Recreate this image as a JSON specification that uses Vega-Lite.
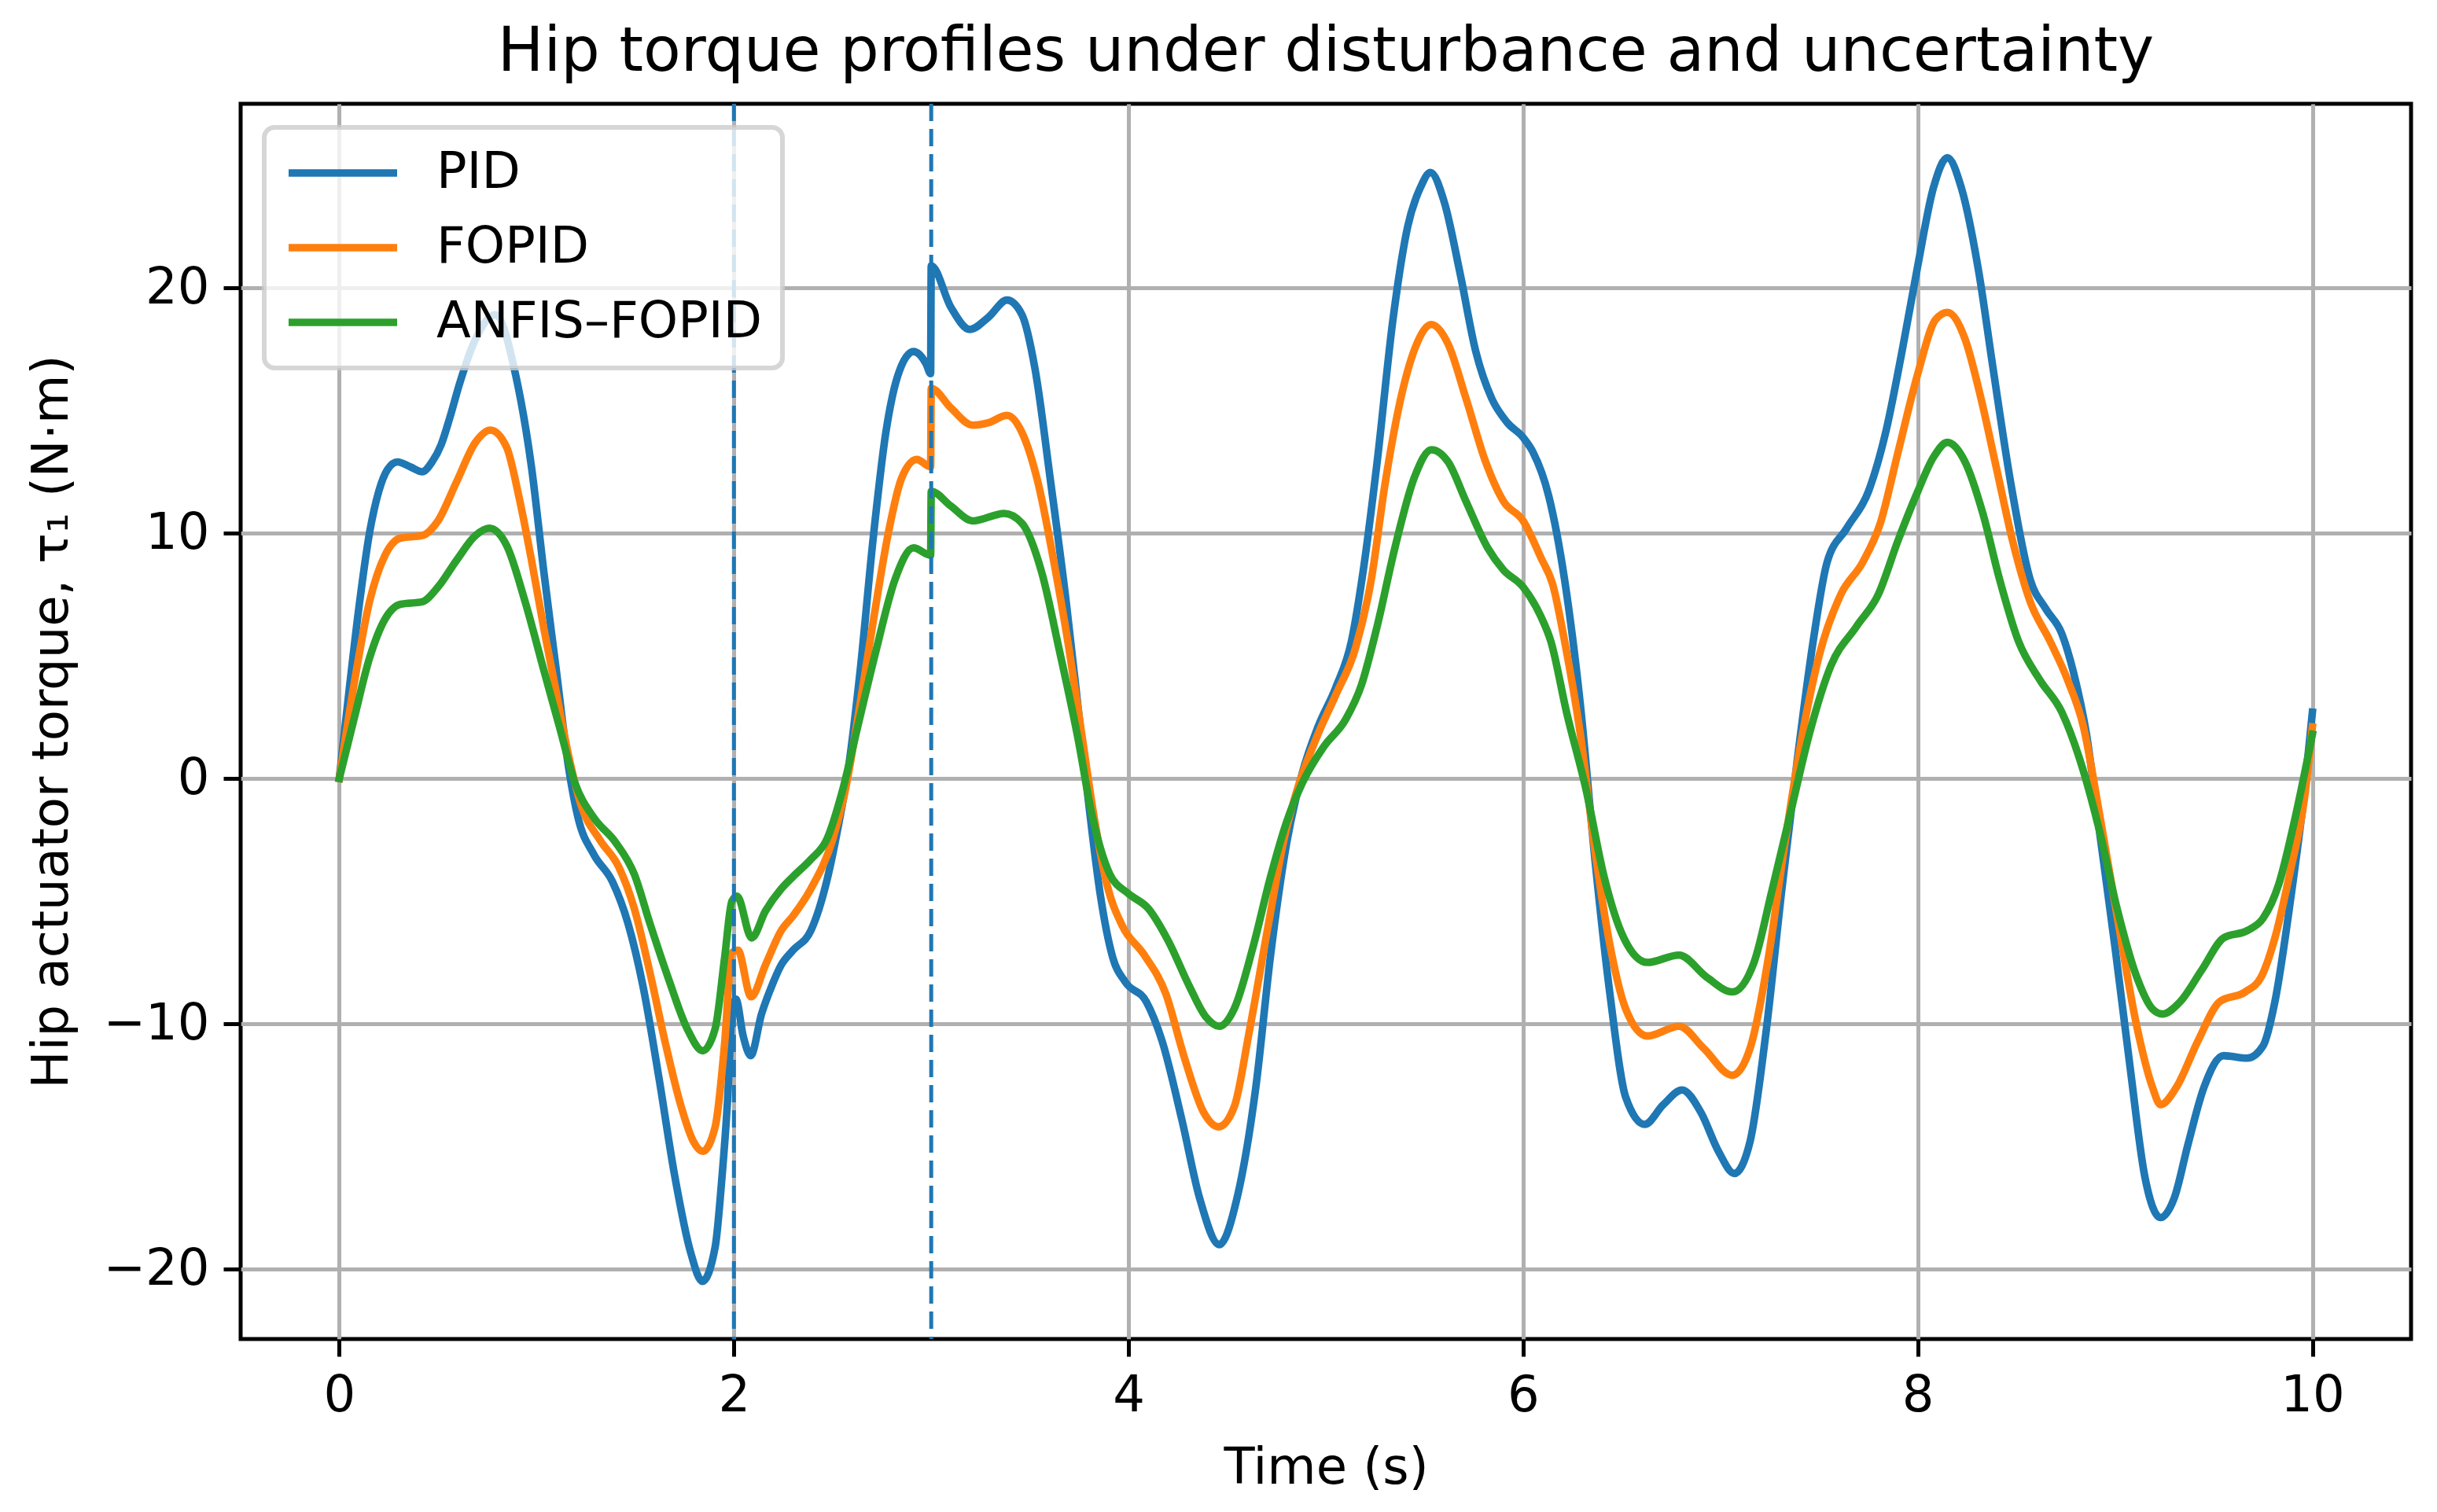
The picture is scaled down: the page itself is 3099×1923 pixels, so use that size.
{
  "$schema": "https://vega.github.io/schema/vega-lite/v6.json",
  "width": 2760,
  "height": 1571,
  "autosize": {"type": "none"},
  "padding": {"left": 306, "top": 132, "right": 33, "bottom": 220},
  "background": "white",
  "title": {
    "text": "Hip torque profiles under disturbance and uncertainty",
    "fontSize": 78,
    "fontWeight": "normal",
    "font": "DejaVu Sans",
    "color": "black",
    "anchor": "middle",
    "offset": 24
  },
  "datasets": {
    "torque": [
      {"c": "PID", "t": 0, "v": 0}, {"c": "PID", "t": 0.05, "v": 3.6}, {"c": "PID", "t": 0.1, "v": 7.0},
      {"c": "PID", "t": 0.153, "v": 10.0}, {"c": "PID", "t": 0.2, "v": 11.7}, {"c": "PID", "t": 0.245, "v": 12.6},
      {"c": "PID", "t": 0.295, "v": 12.9}, {"c": "PID", "t": 0.36, "v": 12.7}, {"c": "PID", "t": 0.42, "v": 12.5},
      {"c": "PID", "t": 0.47, "v": 12.9}, {"c": "PID", "t": 0.516, "v": 13.6}, {"c": "PID", "t": 0.56, "v": 14.7},
      {"c": "PID", "t": 0.61, "v": 16.1}, {"c": "PID", "t": 0.69, "v": 17.9}, {"c": "PID", "t": 0.79, "v": 18.9},
      {"c": "PID", "t": 0.895, "v": 16.4}, {"c": "PID", "t": 0.974, "v": 12.7}, {"c": "PID", "t": 1.037, "v": 8.4},
      {"c": "PID", "t": 1.1, "v": 4.4}, {"c": "PID", "t": 1.163, "v": 0.4}, {"c": "PID", "t": 1.21, "v": -1.6},
      {"c": "PID", "t": 1.29, "v": -3.1}, {"c": "PID", "t": 1.384, "v": -4.2}, {"c": "PID", "t": 1.463, "v": -5.9},
      {"c": "PID", "t": 1.54, "v": -8.5}, {"c": "PID", "t": 1.62, "v": -12.2}, {"c": "PID", "t": 1.7, "v": -16.2},
      {"c": "PID", "t": 1.78, "v": -19.3}, {"c": "PID", "t": 1.84, "v": -20.5}, {"c": "PID", "t": 1.905, "v": -19.1},
      {"c": "PID", "t": 1.937, "v": -16.5}, {"c": "PID", "t": 1.968, "v": -13.1}, {"c": "PID", "t": 1.99, "v": -9.6},
      {"c": "PID", "t": 2.01, "v": -9.0}, {"c": "PID", "t": 2.047, "v": -10.5}, {"c": "PID", "t": 2.085, "v": -11.3},
      {"c": "PID", "t": 2.14, "v": -9.6}, {"c": "PID", "t": 2.185, "v": -8.6}, {"c": "PID", "t": 2.24, "v": -7.6},
      {"c": "PID", "t": 2.3, "v": -7.0}, {"c": "PID", "t": 2.39, "v": -6.2}, {"c": "PID", "t": 2.47, "v": -4.2},
      {"c": "PID", "t": 2.53, "v": -1.9}, {"c": "PID", "t": 2.58, "v": 0.4}, {"c": "PID", "t": 2.64, "v": 4.4},
      {"c": "PID", "t": 2.706, "v": 9.8}, {"c": "PID", "t": 2.77, "v": 14.1}, {"c": "PID", "t": 2.83, "v": 16.4},
      {"c": "PID", "t": 2.91, "v": 17.4}, {"c": "PID", "t": 2.974, "v": 16.9}, {"c": "PID", "t": 2.997, "v": 16.5},
      {"c": "PID", "t": 3.0, "v": 20.9}, {"c": "PID", "t": 3.1, "v": 19.2}, {"c": "PID", "t": 3.195, "v": 18.3},
      {"c": "PID", "t": 3.29, "v": 18.8}, {"c": "PID", "t": 3.384, "v": 19.5}, {"c": "PID", "t": 3.46, "v": 18.9},
      {"c": "PID", "t": 3.526, "v": 16.7}, {"c": "PID", "t": 3.605, "v": 12.1}, {"c": "PID", "t": 3.684, "v": 7.2},
      {"c": "PID", "t": 3.747, "v": 2.7}, {"c": "PID", "t": 3.795, "v": -0.8}, {"c": "PID", "t": 3.858, "v": -4.8},
      {"c": "PID", "t": 3.92, "v": -7.3}, {"c": "PID", "t": 3.984, "v": -8.3}, {"c": "PID", "t": 4.09, "v": -9.1},
      {"c": "PID", "t": 4.17, "v": -10.7}, {"c": "PID", "t": 4.27, "v": -13.9}, {"c": "PID", "t": 4.36, "v": -17.1},
      {"c": "PID", "t": 4.46, "v": -19.0}, {"c": "PID", "t": 4.55, "v": -17.1}, {"c": "PID", "t": 4.645, "v": -12.6},
      {"c": "PID", "t": 4.72, "v": -7.2}, {"c": "PID", "t": 4.8, "v": -2.7}, {"c": "PID", "t": 4.88, "v": 0.2},
      {"c": "PID", "t": 4.96, "v": 2.1}, {"c": "PID", "t": 5.05, "v": 3.7}, {"c": "PID", "t": 5.13, "v": 5.6},
      {"c": "PID", "t": 5.19, "v": 8.5}, {"c": "PID", "t": 5.26, "v": 12.9}, {"c": "PID", "t": 5.34, "v": 18.7},
      {"c": "PID", "t": 5.415, "v": 22.5}, {"c": "PID", "t": 5.48, "v": 24.1}, {"c": "PID", "t": 5.53, "v": 24.7},
      {"c": "PID", "t": 5.6, "v": 23.5}, {"c": "PID", "t": 5.68, "v": 20.6}, {"c": "PID", "t": 5.76, "v": 17.4},
      {"c": "PID", "t": 5.84, "v": 15.5}, {"c": "PID", "t": 5.92, "v": 14.5}, {"c": "PID", "t": 6.0, "v": 13.9},
      {"c": "PID", "t": 6.05, "v": 13.3}, {"c": "PID", "t": 6.13, "v": 11.5}, {"c": "PID", "t": 6.21, "v": 8.1},
      {"c": "PID", "t": 6.29, "v": 3.0}, {"c": "PID", "t": 6.365, "v": -3.4}, {"c": "PID", "t": 6.44, "v": -8.8},
      {"c": "PID", "t": 6.52, "v": -13.0}, {"c": "PID", "t": 6.616, "v": -14.1}, {"c": "PID", "t": 6.71, "v": -13.3},
      {"c": "PID", "t": 6.805, "v": -12.7}, {"c": "PID", "t": 6.9, "v": -13.6}, {"c": "PID", "t": 6.99, "v": -15.2},
      {"c": "PID", "t": 7.07, "v": -16.1}, {"c": "PID", "t": 7.15, "v": -14.8}, {"c": "PID", "t": 7.23, "v": -10.4},
      {"c": "PID", "t": 7.31, "v": -4.6}, {"c": "PID", "t": 7.39, "v": 0.8}, {"c": "PID", "t": 7.47, "v": 5.6},
      {"c": "PID", "t": 7.54, "v": 8.8}, {"c": "PID", "t": 7.64, "v": 10.2}, {"c": "PID", "t": 7.75, "v": 11.7},
      {"c": "PID", "t": 7.84, "v": 14.2}, {"c": "PID", "t": 7.92, "v": 17.4}, {"c": "PID", "t": 8.0, "v": 20.9},
      {"c": "PID", "t": 8.08, "v": 24.1}, {"c": "PID", "t": 8.15, "v": 25.3}, {"c": "PID", "t": 8.22, "v": 24.1},
      {"c": "PID", "t": 8.31, "v": 20.6}, {"c": "PID", "t": 8.38, "v": 16.8}, {"c": "PID", "t": 8.47, "v": 12.1},
      {"c": "PID", "t": 8.57, "v": 8.1}, {"c": "PID", "t": 8.65, "v": 6.9}, {"c": "PID", "t": 8.73, "v": 5.9},
      {"c": "PID", "t": 8.79, "v": 4.3}, {"c": "PID", "t": 8.855, "v": 1.8}, {"c": "PID", "t": 8.92, "v": -2.1},
      {"c": "PID", "t": 9.0, "v": -6.9}, {"c": "PID", "t": 9.075, "v": -11.7}, {"c": "PID", "t": 9.15, "v": -16.2},
      {"c": "PID", "t": 9.23, "v": -17.9}, {"c": "PID", "t": 9.3, "v": -17.1}, {"c": "PID", "t": 9.37, "v": -14.9},
      {"c": "PID", "t": 9.45, "v": -12.6}, {"c": "PID", "t": 9.55, "v": -11.3}, {"c": "PID", "t": 9.67, "v": -11.4},
      {"c": "PID", "t": 9.75, "v": -10.9}, {"c": "PID", "t": 9.81, "v": -9.1}, {"c": "PID", "t": 9.89, "v": -4.9},
      {"c": "PID", "t": 9.96, "v": -0.5}, {"c": "PID", "t": 10.0, "v": 2.7},

      {"c": "FOPID", "t": 0, "v": 0}, {"c": "FOPID", "t": 0.074, "v": 3.8}, {"c": "FOPID", "t": 0.153, "v": 7.2},
      {"c": "FOPID", "t": 0.232, "v": 9.1}, {"c": "FOPID", "t": 0.311, "v": 9.8}, {"c": "FOPID", "t": 0.42, "v": 9.9},
      {"c": "FOPID", "t": 0.5, "v": 10.5}, {"c": "FOPID", "t": 0.595, "v": 12.1}, {"c": "FOPID", "t": 0.69, "v": 13.7},
      {"c": "FOPID", "t": 0.766, "v": 14.2}, {"c": "FOPID", "t": 0.848, "v": 13.5}, {"c": "FOPID", "t": 0.91, "v": 11.5},
      {"c": "FOPID", "t": 0.974, "v": 8.9}, {"c": "FOPID", "t": 1.037, "v": 6.1}, {"c": "FOPID", "t": 1.1, "v": 3.5},
      {"c": "FOPID", "t": 1.163, "v": 0.9}, {"c": "FOPID", "t": 1.226, "v": -1.1}, {"c": "FOPID", "t": 1.32, "v": -2.5},
      {"c": "FOPID", "t": 1.416, "v": -3.6}, {"c": "FOPID", "t": 1.495, "v": -5.3}, {"c": "FOPID", "t": 1.574, "v": -7.9},
      {"c": "FOPID", "t": 1.653, "v": -10.8}, {"c": "FOPID", "t": 1.73, "v": -13.3}, {"c": "FOPID", "t": 1.795, "v": -14.8},
      {"c": "FOPID", "t": 1.842, "v": -15.2}, {"c": "FOPID", "t": 1.905, "v": -14.2}, {"c": "FOPID", "t": 1.953, "v": -10.8},
      {"c": "FOPID", "t": 1.99, "v": -7.1}, {"c": "FOPID", "t": 2.02, "v": -7.0}, {"c": "FOPID", "t": 2.087, "v": -8.9},
      {"c": "FOPID", "t": 2.16, "v": -7.6}, {"c": "FOPID", "t": 2.24, "v": -6.2}, {"c": "FOPID", "t": 2.3, "v": -5.6},
      {"c": "FOPID", "t": 2.39, "v": -4.5}, {"c": "FOPID", "t": 2.5, "v": -2.5}, {"c": "FOPID", "t": 2.564, "v": -0.5},
      {"c": "FOPID", "t": 2.627, "v": 2.4}, {"c": "FOPID", "t": 2.706, "v": 6.4}, {"c": "FOPID", "t": 2.785, "v": 10.1},
      {"c": "FOPID", "t": 2.848, "v": 12.2}, {"c": "FOPID", "t": 2.927, "v": 13.0}, {"c": "FOPID", "t": 2.997, "v": 12.7},
      {"c": "FOPID", "t": 3.0, "v": 15.9}, {"c": "FOPID", "t": 3.1, "v": 15.1}, {"c": "FOPID", "t": 3.21, "v": 14.4},
      {"c": "FOPID", "t": 3.29, "v": 14.5}, {"c": "FOPID", "t": 3.384, "v": 14.8}, {"c": "FOPID", "t": 3.46, "v": 14.1},
      {"c": "FOPID", "t": 3.54, "v": 12.1}, {"c": "FOPID", "t": 3.62, "v": 8.9}, {"c": "FOPID", "t": 3.7, "v": 5.2},
      {"c": "FOPID", "t": 3.763, "v": 1.8}, {"c": "FOPID", "t": 3.826, "v": -1.6}, {"c": "FOPID", "t": 3.89, "v": -4.3},
      {"c": "FOPID", "t": 3.968, "v": -6.0}, {"c": "FOPID", "t": 4.08, "v": -7.2}, {"c": "FOPID", "t": 4.19, "v": -8.8},
      {"c": "FOPID", "t": 4.28, "v": -11.3}, {"c": "FOPID", "t": 4.38, "v": -13.6}, {"c": "FOPID", "t": 4.456, "v": -14.2},
      {"c": "FOPID", "t": 4.535, "v": -13.4}, {"c": "FOPID", "t": 4.61, "v": -10.4}, {"c": "FOPID", "t": 4.71, "v": -5.9},
      {"c": "FOPID", "t": 4.79, "v": -2.4}, {"c": "FOPID", "t": 4.865, "v": -0.2}, {"c": "FOPID", "t": 4.96, "v": 1.8},
      {"c": "FOPID", "t": 5.05, "v": 3.4}, {"c": "FOPID", "t": 5.15, "v": 5.3}, {"c": "FOPID", "t": 5.23, "v": 8.1},
      {"c": "FOPID", "t": 5.3, "v": 12.0}, {"c": "FOPID", "t": 5.38, "v": 15.5}, {"c": "FOPID", "t": 5.46, "v": 17.7},
      {"c": "FOPID", "t": 5.535, "v": 18.5}, {"c": "FOPID", "t": 5.62, "v": 17.7}, {"c": "FOPID", "t": 5.71, "v": 15.5},
      {"c": "FOPID", "t": 5.81, "v": 12.9}, {"c": "FOPID", "t": 5.9, "v": 11.3}, {"c": "FOPID", "t": 6.0, "v": 10.5},
      {"c": "FOPID", "t": 6.09, "v": 9.0}, {"c": "FOPID", "t": 6.15, "v": 7.9}, {"c": "FOPID", "t": 6.21, "v": 5.6},
      {"c": "FOPID", "t": 6.29, "v": 1.8}, {"c": "FOPID", "t": 6.365, "v": -3.0}, {"c": "FOPID", "t": 6.44, "v": -6.8},
      {"c": "FOPID", "t": 6.52, "v": -9.4}, {"c": "FOPID", "t": 6.63, "v": -10.5}, {"c": "FOPID", "t": 6.79, "v": -10.1},
      {"c": "FOPID", "t": 6.915, "v": -11.0}, {"c": "FOPID", "t": 7.06, "v": -12.1}, {"c": "FOPID", "t": 7.15, "v": -11.0},
      {"c": "FOPID", "t": 7.245, "v": -7.2}, {"c": "FOPID", "t": 7.32, "v": -3.0}, {"c": "FOPID", "t": 7.4, "v": 1.1},
      {"c": "FOPID", "t": 7.5, "v": 5.0}, {"c": "FOPID", "t": 7.61, "v": 7.5}, {"c": "FOPID", "t": 7.72, "v": 8.8},
      {"c": "FOPID", "t": 7.81, "v": 10.4}, {"c": "FOPID", "t": 7.9, "v": 13.3}, {"c": "FOPID", "t": 8.0, "v": 16.5},
      {"c": "FOPID", "t": 8.09, "v": 18.7}, {"c": "FOPID", "t": 8.15, "v": 19.0}, {"c": "FOPID", "t": 8.24, "v": 17.9},
      {"c": "FOPID", "t": 8.32, "v": 15.5}, {"c": "FOPID", "t": 8.4, "v": 12.6}, {"c": "FOPID", "t": 8.48, "v": 9.7},
      {"c": "FOPID", "t": 8.57, "v": 7.2}, {"c": "FOPID", "t": 8.67, "v": 5.6}, {"c": "FOPID", "t": 8.76, "v": 4.0},
      {"c": "FOPID", "t": 8.84, "v": 2.1}, {"c": "FOPID", "t": 8.92, "v": -1.4}, {"c": "FOPID", "t": 9.01, "v": -5.6},
      {"c": "FOPID", "t": 9.11, "v": -10.1}, {"c": "FOPID", "t": 9.19, "v": -12.6}, {"c": "FOPID", "t": 9.23, "v": -13.3},
      {"c": "FOPID", "t": 9.31, "v": -12.6}, {"c": "FOPID", "t": 9.42, "v": -10.7}, {"c": "FOPID", "t": 9.53, "v": -9.1},
      {"c": "FOPID", "t": 9.66, "v": -8.7}, {"c": "FOPID", "t": 9.74, "v": -8.1}, {"c": "FOPID", "t": 9.81, "v": -6.5},
      {"c": "FOPID", "t": 9.89, "v": -3.7}, {"c": "FOPID", "t": 9.96, "v": -0.8}, {"c": "FOPID", "t": 10.0, "v": 2.1},

      {"c": "ANFIS–FOPID", "t": 0, "v": 0}, {"c": "ANFIS–FOPID", "t": 0.074, "v": 2.4}, {"c": "ANFIS–FOPID", "t": 0.153, "v": 4.9},
      {"c": "ANFIS–FOPID", "t": 0.232, "v": 6.5}, {"c": "ANFIS–FOPID", "t": 0.311, "v": 7.1}, {"c": "ANFIS–FOPID", "t": 0.42, "v": 7.2},
      {"c": "ANFIS–FOPID", "t": 0.5, "v": 7.8}, {"c": "ANFIS–FOPID", "t": 0.595, "v": 8.9}, {"c": "ANFIS–FOPID", "t": 0.69, "v": 9.9},
      {"c": "ANFIS–FOPID", "t": 0.76, "v": 10.2}, {"c": "ANFIS–FOPID", "t": 0.848, "v": 9.5}, {"c": "ANFIS–FOPID", "t": 0.942, "v": 7.2},
      {"c": "ANFIS–FOPID", "t": 1.037, "v": 4.4}, {"c": "ANFIS–FOPID", "t": 1.116, "v": 2.1}, {"c": "ANFIS–FOPID", "t": 1.195, "v": -0.2},
      {"c": "ANFIS–FOPID", "t": 1.29, "v": -1.6}, {"c": "ANFIS–FOPID", "t": 1.4, "v": -2.6}, {"c": "ANFIS–FOPID", "t": 1.495, "v": -3.9},
      {"c": "ANFIS–FOPID", "t": 1.574, "v": -5.9}, {"c": "ANFIS–FOPID", "t": 1.67, "v": -8.2}, {"c": "ANFIS–FOPID", "t": 1.763, "v": -10.2},
      {"c": "ANFIS–FOPID", "t": 1.842, "v": -11.1}, {"c": "ANFIS–FOPID", "t": 1.905, "v": -10.2}, {"c": "ANFIS–FOPID", "t": 1.953, "v": -7.3},
      {"c": "ANFIS–FOPID", "t": 1.99, "v": -5.0}, {"c": "ANFIS–FOPID", "t": 2.016, "v": -4.8}, {"c": "ANFIS–FOPID", "t": 2.09, "v": -6.5},
      {"c": "ANFIS–FOPID", "t": 2.16, "v": -5.4}, {"c": "ANFIS–FOPID", "t": 2.24, "v": -4.5}, {"c": "ANFIS–FOPID", "t": 2.3, "v": -4.0},
      {"c": "ANFIS–FOPID", "t": 2.39, "v": -3.3}, {"c": "ANFIS–FOPID", "t": 2.47, "v": -2.5}, {"c": "ANFIS–FOPID", "t": 2.55, "v": -0.5},
      {"c": "ANFIS–FOPID", "t": 2.627, "v": 2.1}, {"c": "ANFIS–FOPID", "t": 2.72, "v": 5.2}, {"c": "ANFIS–FOPID", "t": 2.816, "v": 8.1},
      {"c": "ANFIS–FOPID", "t": 2.91, "v": 9.4}, {"c": "ANFIS–FOPID", "t": 2.997, "v": 9.1}, {"c": "ANFIS–FOPID", "t": 3.0, "v": 11.7},
      {"c": "ANFIS–FOPID", "t": 3.1, "v": 11.1}, {"c": "ANFIS–FOPID", "t": 3.21, "v": 10.5}, {"c": "ANFIS–FOPID", "t": 3.37, "v": 10.8},
      {"c": "ANFIS–FOPID", "t": 3.46, "v": 10.4}, {"c": "ANFIS–FOPID", "t": 3.56, "v": 8.4}, {"c": "ANFIS–FOPID", "t": 3.65, "v": 5.2},
      {"c": "ANFIS–FOPID", "t": 3.747, "v": 1.5}, {"c": "ANFIS–FOPID", "t": 3.81, "v": -1.3}, {"c": "ANFIS–FOPID", "t": 3.905, "v": -3.9},
      {"c": "ANFIS–FOPID", "t": 4.0, "v": -4.7}, {"c": "ANFIS–FOPID", "t": 4.1, "v": -5.3}, {"c": "ANFIS–FOPID", "t": 4.2, "v": -6.6},
      {"c": "ANFIS–FOPID", "t": 4.31, "v": -8.5}, {"c": "ANFIS–FOPID", "t": 4.39, "v": -9.7}, {"c": "ANFIS–FOPID", "t": 4.46, "v": -10.1},
      {"c": "ANFIS–FOPID", "t": 4.535, "v": -9.4}, {"c": "ANFIS–FOPID", "t": 4.63, "v": -6.9}, {"c": "ANFIS–FOPID", "t": 4.72, "v": -4.0},
      {"c": "ANFIS–FOPID", "t": 4.8, "v": -1.8}, {"c": "ANFIS–FOPID", "t": 4.88, "v": -0.2}, {"c": "ANFIS–FOPID", "t": 4.99, "v": 1.3},
      {"c": "ANFIS–FOPID", "t": 5.1, "v": 2.4}, {"c": "ANFIS–FOPID", "t": 5.18, "v": 3.8}, {"c": "ANFIS–FOPID", "t": 5.26, "v": 6.2},
      {"c": "ANFIS–FOPID", "t": 5.35, "v": 9.4}, {"c": "ANFIS–FOPID", "t": 5.45, "v": 12.3}, {"c": "ANFIS–FOPID", "t": 5.535, "v": 13.4},
      {"c": "ANFIS–FOPID", "t": 5.62, "v": 12.9}, {"c": "ANFIS–FOPID", "t": 5.71, "v": 11.3}, {"c": "ANFIS–FOPID", "t": 5.82, "v": 9.4},
      {"c": "ANFIS–FOPID", "t": 5.9, "v": 8.5}, {"c": "ANFIS–FOPID", "t": 6.0, "v": 7.8}, {"c": "ANFIS–FOPID", "t": 6.09, "v": 6.6},
      {"c": "ANFIS–FOPID", "t": 6.14, "v": 5.6}, {"c": "ANFIS–FOPID", "t": 6.22, "v": 2.7}, {"c": "ANFIS–FOPID", "t": 6.32, "v": -0.5},
      {"c": "ANFIS–FOPID", "t": 6.41, "v": -4.0}, {"c": "ANFIS–FOPID", "t": 6.51, "v": -6.5}, {"c": "ANFIS–FOPID", "t": 6.63, "v": -7.5},
      {"c": "ANFIS–FOPID", "t": 6.79, "v": -7.2}, {"c": "ANFIS–FOPID", "t": 6.93, "v": -8.1}, {"c": "ANFIS–FOPID", "t": 7.06, "v": -8.7},
      {"c": "ANFIS–FOPID", "t": 7.17, "v": -7.5}, {"c": "ANFIS–FOPID", "t": 7.26, "v": -4.6}, {"c": "ANFIS–FOPID", "t": 7.355, "v": -1.4},
      {"c": "ANFIS–FOPID", "t": 7.45, "v": 1.8}, {"c": "ANFIS–FOPID", "t": 7.56, "v": 4.6}, {"c": "ANFIS–FOPID", "t": 7.69, "v": 6.2},
      {"c": "ANFIS–FOPID", "t": 7.8, "v": 7.5}, {"c": "ANFIS–FOPID", "t": 7.9, "v": 9.7}, {"c": "ANFIS–FOPID", "t": 8.0, "v": 11.7},
      {"c": "ANFIS–FOPID", "t": 8.08, "v": 13.1}, {"c": "ANFIS–FOPID", "t": 8.15, "v": 13.7}, {"c": "ANFIS–FOPID", "t": 8.24, "v": 12.9},
      {"c": "ANFIS–FOPID", "t": 8.33, "v": 10.8}, {"c": "ANFIS–FOPID", "t": 8.415, "v": 8.1}, {"c": "ANFIS–FOPID", "t": 8.51, "v": 5.6},
      {"c": "ANFIS–FOPID", "t": 8.62, "v": 4.0}, {"c": "ANFIS–FOPID", "t": 8.73, "v": 2.7}, {"c": "ANFIS–FOPID", "t": 8.82, "v": 0.8},
      {"c": "ANFIS–FOPID", "t": 8.92, "v": -2.1}, {"c": "ANFIS–FOPID", "t": 9.01, "v": -5.3}, {"c": "ANFIS–FOPID", "t": 9.11, "v": -8.1},
      {"c": "ANFIS–FOPID", "t": 9.19, "v": -9.4}, {"c": "ANFIS–FOPID", "t": 9.24, "v": -9.6}, {"c": "ANFIS–FOPID", "t": 9.33, "v": -9.1},
      {"c": "ANFIS–FOPID", "t": 9.44, "v": -7.8}, {"c": "ANFIS–FOPID", "t": 9.55, "v": -6.5}, {"c": "ANFIS–FOPID", "t": 9.67, "v": -6.2},
      {"c": "ANFIS–FOPID", "t": 9.75, "v": -5.7}, {"c": "ANFIS–FOPID", "t": 9.83, "v": -4.3}, {"c": "ANFIS–FOPID", "t": 9.91, "v": -1.7},
      {"c": "ANFIS–FOPID", "t": 10.0, "v": 1.8}
    ],
    "events": [{"t": 2}, {"t": 3}]
  },
  "layer": [
    {
      "data": {"name": "torque"},
      "mark": {"type": "line", "strokeWidth": 9.6, "interpolate": "monotone", "strokeJoin": "round", "strokeCap": "square"},
      "encoding": {
        "x": {
          "field": "t",
          "type": "quantitative",
          "scale": {"domain": [-0.5, 10.5], "nice": false, "zero": false},
          "axis": {"values": [0, 2, 4, 6, 8, 10], "format": "d", "title": "Time (s)"}
        },
        "y": {
          "field": "v",
          "type": "quantitative",
          "scale": {"domain": [-22.85, 27.5], "nice": false, "zero": false},
          "axis": {"values": [-20, -10, 0, 10, 20], "format": "d", "title": "Hip actuator torque, τ₁ (N·m)"}
        },
        "color": {
          "field": "c",
          "type": "nominal",
          "scale": {"domain": ["PID", "FOPID", "ANFIS–FOPID"], "range": ["#1f77b4", "#ff7f0e", "#2ca02c"]},
          "legend": {
            "title": null,
            "orient": "none",
            "legendX": 30,
            "legendY": 30,
            "symbolType": "stroke",
            "symbolSize": 19044,
            "symbolStrokeWidth": 9.6,
            "clipHeight": 64,
            "rowPadding": 31,
            "labelFontSize": 64,
            "labelOffset": 45,
            "labelLimit": 0,
            "labelColor": "black",
            "padding": 26,
            "fillColor": "rgba(255,255,255,0.8)",
            "strokeColor": "rgba(204,204,204,0.8)",
            "cornerRadius": 13
          }
        }
      }
    },
    {
      "data": {"name": "events"},
      "mark": {"type": "rule", "color": "#1f77b4", "strokeWidth": 5, "strokeDash": [22, 10]},
      "encoding": {"x": {"field": "t", "type": "quantitative"}}
    }
  ],
  "config": {
    "font": "DejaVu Sans",
    "view": {"stroke": "black", "strokeWidth": 5},
    "axis": {
      "grid": true,
      "gridColor": "#b0b0b0",
      "gridWidth": 5,
      "domain": false,
      "tickColor": "black",
      "tickSize": 22,
      "tickWidth": 5,
      "labelFont": "DejaVu Sans",
      "labelFontSize": 64,
      "labelColor": "black",
      "labelPadding": 18,
      "titleFont": "DejaVu Sans",
      "titleFontSize": 64,
      "titleFontWeight": "normal",
      "titleColor": "black"
    },
    "axisX": {"titlePadding": 28},
    "axisY": {"titlePadding": 32},
    "legend": {"strokeWidth": 6, "labelFont": "DejaVu Sans"}
  }
}
